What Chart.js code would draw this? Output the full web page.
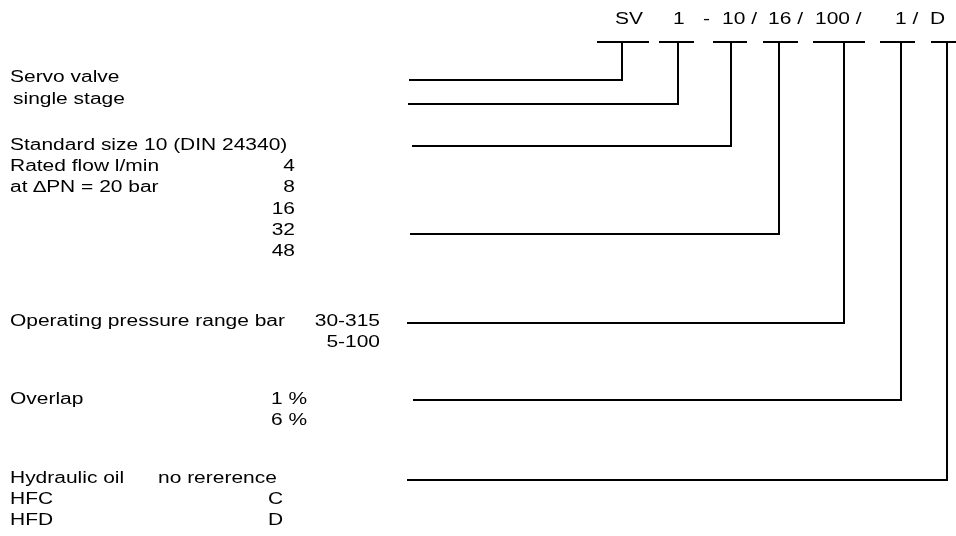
<!DOCTYPE html>
<html>
<head>
<meta charset="utf-8">
<script src="https://cdn.jsdelivr.net/npm/chart.js@4"></script>
<style>
  html, body { margin: 0; padding: 0; background: #fff; }
  #wrap { width: 956px; height: 536px; position: relative; }
</style>
</head>
<body>
<div id="wrap"><canvas id="typeCode"></canvas></div>
<script>
// ---- type code string (top row) ----
var codeTokens = ['SV', '1', '-', '10 /', '16 /', '100 /', '1 /', 'D'];
var codeTokenX = [615, 673, 703, 722, 768, 815, 895, 930];
var codeRowY = 20;

// ---- brackets under each code segment ----
var segments      = ['SV', '1', '10', '16', '100', '1', 'D'];
var bracketLeft   = [597, 659, 713, 763, 813, 880, 931];
var bracketRight  = [649, 694, 747, 798, 865, 915, 956];
var bracketStem   = [622, 678, 731, 779, 844, 901, 947];
var bracketY = 42;

// ---- leader lines from description rows to the stems ----
var leaderRowY   = [80, 104, 146, 234, 323, 400, 480];
var leaderStartX = [409, 408, 412, 410, 407, 413, 407];

// ---- description texts (left column) ----
var descLines = ['Servo valve', 'single stage', 'Standard size 10 (DIN 24340)',
                 'Rated flow l/min', 'at \u2206PN = 20 bar', 'Operating pressure range bar',
                 'Overlap', 'Hydraulic oil', 'HFC', 'HFD'];
var descX = [10, 13, 10, 10, 10, 10, 10, 10, 10, 10];
var descY = [78, 100, 146, 167, 188, 322, 400, 479, 500, 521];

// ---- option values (second column) ----
var optionValues = ['4', '8', '16', '32', '48', '30-315', '5-100', '1 %', '6 %', 'no rererence', 'C', 'D'];
var optionX      = [295, 295, 295, 295, 295, 380, 380, 271, 271, 158, 268, 268];
var optionAlign  = ['right', 'right', 'right', 'right', 'right', 'right', 'right', 'left', 'left', 'left', 'left', 'left'];
var optionY      = [167, 188, 210, 231, 252, 322, 343, 400, 421, 479, 500, 521];

var INK = '#000000';
var FONT = '16px "Liberation Sans", Arial, sans-serif';
var STRETCH = 1.31; // text in the original is wide-stretched

var datasets = [];
segments.forEach(function (s, i) {
    datasets.push({
        label: 'bracket ' + s,
        data: [{ x: bracketLeft[i], y: bracketY }, { x: bracketRight[i], y: bracketY }]
    });
    datasets.push({
        label: 'leader ' + s,
        data: [
            { x: leaderStartX[i], y: leaderRowY[i] },
            { x: bracketStem[i], y: leaderRowY[i] },
            { x: bracketStem[i], y: bracketY }
        ]
    });
});
datasets.forEach(function (d) {
    d.showLine = true;
    d.borderColor = INK;
    d.borderWidth = 2;
    d.pointRadius = 0;
    d.fill = false;
    d.tension = 0;
    d.clip = false;
});

function drawText(ctx, chart, txt, vx, vy, align) {
    var px = chart.scales.x.getPixelForValue(vx);
    var py = chart.scales.y.getPixelForValue(vy);
    ctx.save();
    ctx.translate(px, py);
    ctx.scale(STRETCH, 1);
    ctx.textAlign = align || 'left';
    ctx.fillText(txt, 0, 0);
    ctx.restore();
}

var textPlugin = {
    id: 'typeCodeText',
    afterDatasetsDraw: function (chart) {
        var ctx = chart.ctx;
        ctx.save();
        ctx.font = FONT;
        ctx.fillStyle = INK;
        ctx.textBaseline = 'middle';
        codeTokens.forEach(function (t, i) { drawText(ctx, chart, t, codeTokenX[i], codeRowY, 'left'); });
        descLines.forEach(function (t, i) { drawText(ctx, chart, t, descX[i], descY[i], 'left'); });
        optionValues.forEach(function (t, i) { drawText(ctx, chart, t, optionX[i], optionY[i], optionAlign[i]); });
        ctx.restore();
    }
};

new Chart(document.getElementById('typeCode'), {
    type: 'scatter',
    data: { datasets: datasets },
    options: {
        responsive: true,
        maintainAspectRatio: false,
        animation: false,
        layout: { padding: 0 },
        plugins: { legend: { display: false }, tooltip: { enabled: false } },
        scales: {
            x: { type: 'linear', min: 0, max: 956, display: false },
            y: { type: 'linear', min: 0, max: 536, reverse: true, display: false }
        }
    },
    plugins: [textPlugin]
});
</script>
</body>
</html>
